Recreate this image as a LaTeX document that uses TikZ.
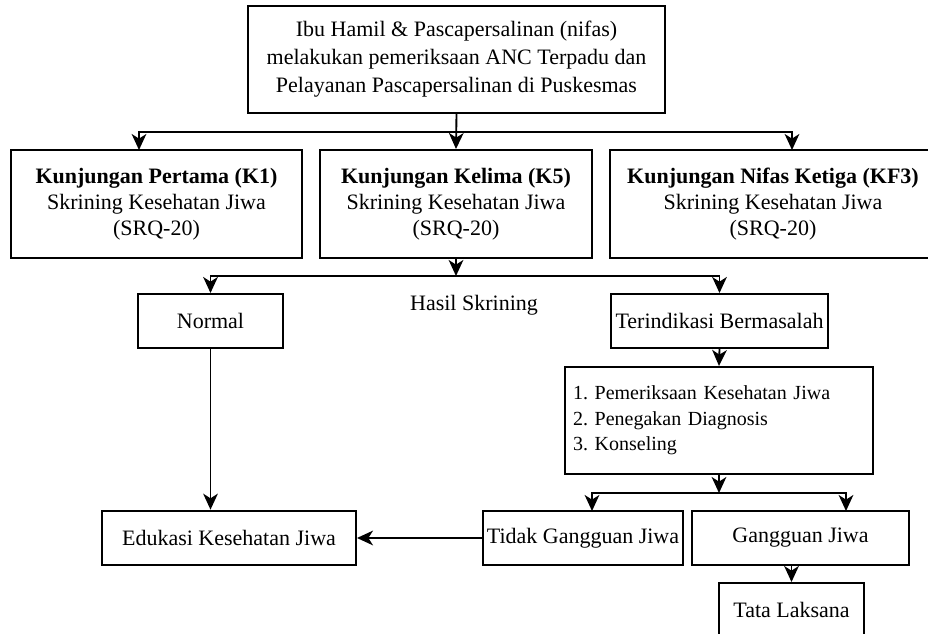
\documentclass[tikz,border=0pt]{standalone}
\usepackage{fontspec}
\setmainfont{Liberation Serif}
\usetikzlibrary{arrows.meta,calc}
\frenchspacing
\tikzset{
	box/.style={draw,line width=1.5pt,inner sep=2pt,align=center,
		font=\fontsize{16.5pt}{19.3pt}\selectfont},
	arr/.style={line width=1.4pt,-{Stealth[length=12pt,width=11pt,inset=3.5pt]}},
	link/.style={line width=1.4pt}
}

\begin{document}
\begin{tikzpicture}[x=0.75pt,y=-0.75pt]
		\useasboundingbox (0,0) rectangle (928,634);
		% first row
		\node[box,minimum width=312.75pt,minimum height=80.25pt,
			font=\fontsize{16.5pt}{21pt}\selectfont] (top) at (456.5,59.5)
			{Ibu Hamil \& Pascapersalinan (nifas)\\melakukan pemeriksaan ANC Terpadu dan\\Pelayanan Pascapersalinan di Puskesmas};
		\node[box,minimum width=218.25pt,minimum height=81pt] (k1) at (156.5,204)
			{\textbf{Kunjungan Pertama (K1)}\\Skrining Kesehatan Jiwa\\(SRQ-20)};
		\node[box,minimum width=204pt,minimum height=81pt] (k5) at (456,204)
			{\textbf{Kunjungan Kelima (K5)}\\Skrining Kesehatan Jiwa\\(SRQ-20)};
		\node[box,minimum width=244.5pt,minimum height=81pt] (kf3) at (773,204)
			{\textbf{Kunjungan Nifas Ketiga (KF3)}\\Skrining Kesehatan Jiwa\\(SRQ-20)};
		% screening result
		\node[font=\fontsize{16.5pt}{19.3pt}\selectfont] (hasil) at (474,305) {Hasil Skrining};
		\node[box,minimum width=108.75pt,minimum height=40.5pt] (normal) at (210.5,321) {Normal};
		\node[box,minimum width=162.75pt,minimum height=40.5pt] (masalah) at (719.5,321) {Terindikasi Bermasalah};
		\node[box,align=left,text width=219pt,inner xsep=6pt,minimum height=80.25pt,
			font=\fontsize{15pt}{19.1pt}\selectfont] (periksa) at (719,420.5)
			{1. Pemeriksaan Kesehatan Jiwa\\2. Penegakan Diagnosis\\3. Konseling};
		% bottom row
		\node[box,minimum width=190.5pt,minimum height=41pt] (edukasi) at (229,538) {Edukasi Kesehatan Jiwa};
		\node[box,minimum width=150pt,minimum height=40.5pt] (tidak) at (583,538) {Tidak Gangguan Jiwa};
		\node[box,minimum width=162.75pt,minimum height=40.5pt] (gangguan) at (800.5,538) {Gangguan Jiwa};
		\node[box,minimum width=108.75pt,minimum height=40.5pt] (tata) at (791.5,610) {Tata Laksana};
		% split points
		\coordinate (j1) at (456,132);
		\coordinate (k1in) at (139,150);
		\coordinate (kf3in) at (792,150);
		\coordinate (j2) at (456,276);
		\coordinate (j3) at (719,493);
		\coordinate (tidakin) at (592,511);
		\coordinate (gangguanin) at (846,511);
		% connectors
		\draw[arr] (top.south) -- (k5.north);
		\foreach \t in {k1in,kf3in}{
			\draw[arr] (j1) -| (\t);
			}
		\draw[arr] (k5.south) -- (j2);
		\foreach \t in {normal,masalah}{
			\draw[arr] (j2) -| (\t.north);
			}
		\draw[arr] (masalah.south) -- (periksa.north);
		\draw[arr] (periksa.south) -- (j3);
		\foreach \t in {tidakin,gangguanin}{
			\draw[arr] (j3) -| (\t);
			}
		\draw[arr] (normal.south) -- (normal.south |- edukasi.north);
		\draw[arr] (tidak.west) -- (edukasi.east);
		\draw[arr] (tata.north |- gangguan.south) -- (tata.north);
\end{tikzpicture}
\end{document}
